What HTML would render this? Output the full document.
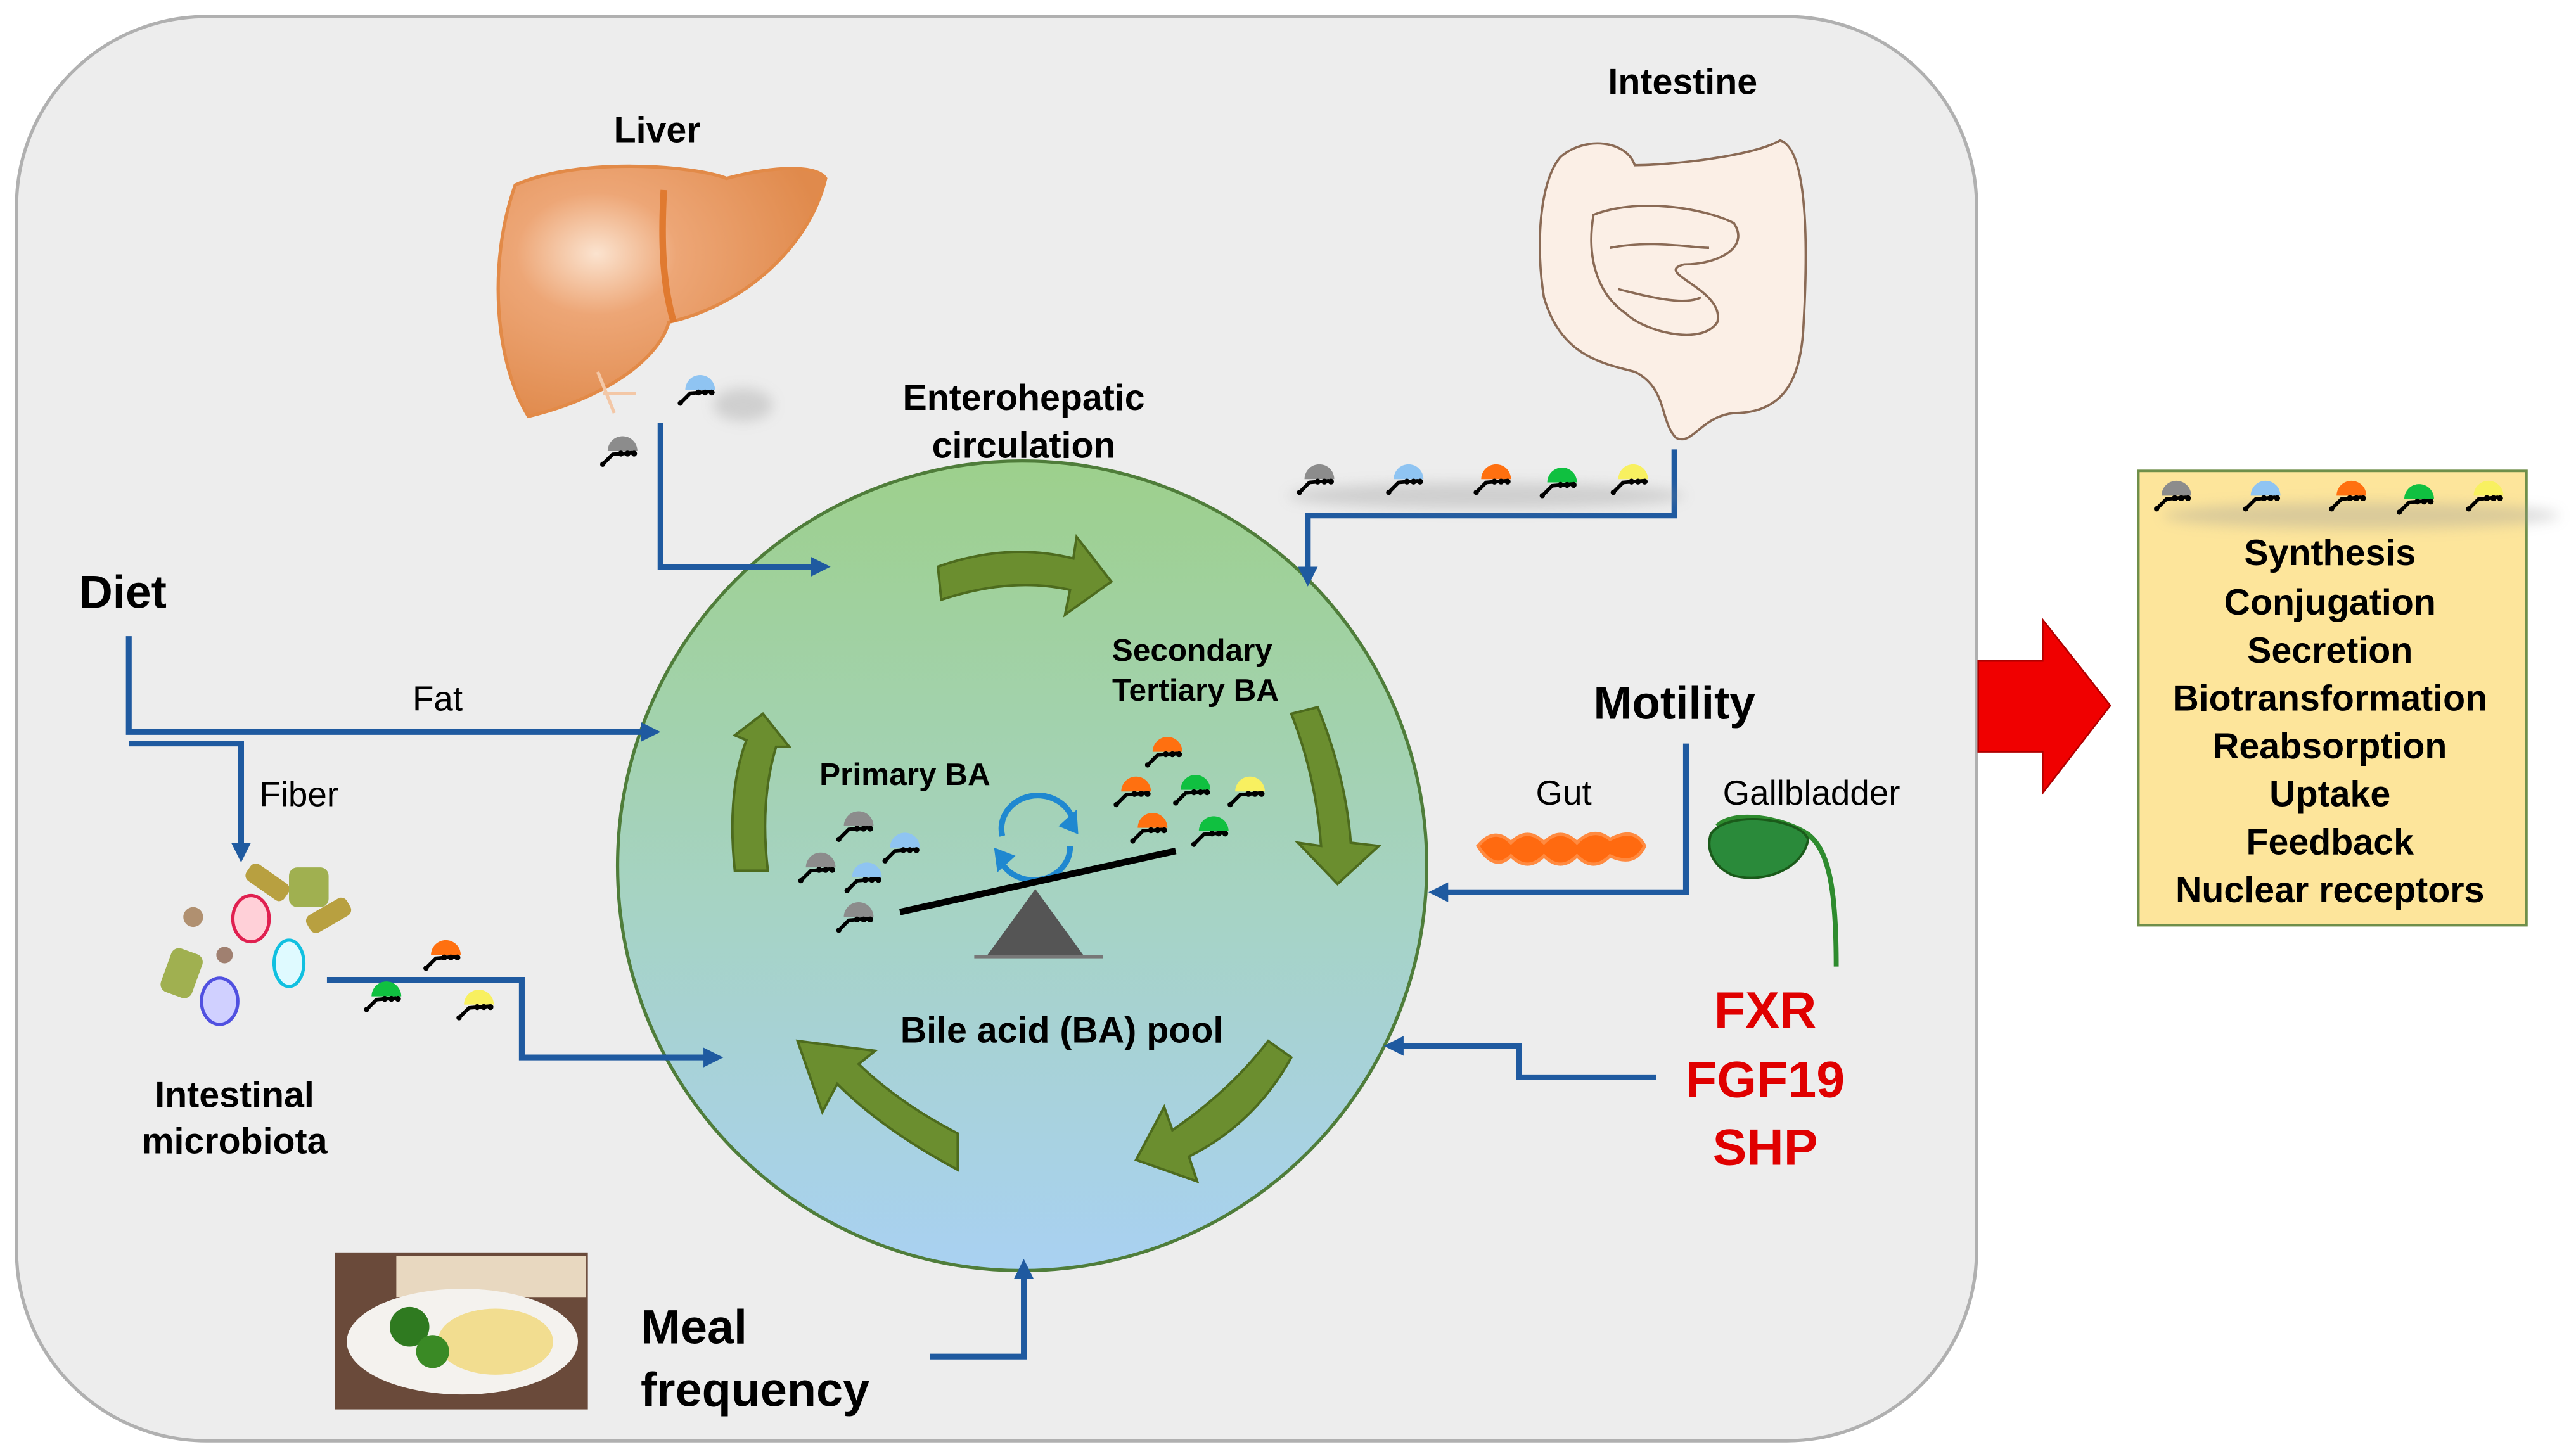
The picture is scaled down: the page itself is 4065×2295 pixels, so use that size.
<!DOCTYPE html>
<html><head><meta charset="utf-8"><style>
html,body{margin:0;padding:0;background:#fff}
svg{display:block}
text{font-family:"Liberation Sans",Arial,sans-serif}
</style></head><body>
<svg width="4065" height="2295" viewBox="0 0 1560 880" preserveAspectRatio="none" xmlns="http://www.w3.org/2000/svg">
<defs>
<linearGradient id="pool" x1="0" y1="0" x2="0" y2="1">
<stop offset="0" stop-color="#9dd08c"/><stop offset="0.55" stop-color="#a6d3c4"/><stop offset="1" stop-color="#a9d1f2"/></linearGradient>
<radialGradient id="liv" cx="0.3" cy="0.35" r="0.7"><stop offset="0" stop-color="#fbe3cf"/><stop offset="0.35" stop-color="#eda676"/><stop offset="1" stop-color="#e08a4c"/></radialGradient>
<filter id="bl"><feGaussianBlur stdDeviation="4"/></filter>
<g id="tail"><path d="M-12,11 L-6,5 L6,4" stroke="#000" stroke-width="2.2" fill="none"/><circle cx="-1" cy="4.5" r="1.8"/><circle cx="3" cy="4.5" r="1.8"/><circle cx="7" cy="4.5" r="1.8"/><circle cx="-12" cy="11" r="1.6"/></g>
<path id="dome" d="M-9,3 A9,9 0 0 1 9,3 Z"/>
</defs>

<rect x="10" y="10" width="1187" height="862" rx="115" fill="#ededed" stroke="#b0b0b0" stroke-width="2"/>

<circle cx="619" cy="524" r="245" fill="url(#pool)" stroke="#4f7d3a" stroke-width="2"/>

<g stroke="#1f5aa0" stroke-width="3.5" fill="none">
<path d="M400,256 V343 H495"/>
<path d="M1014,272 V312 H792 V348"/>
<path d="M78,385 V443 H392"/>
<path d="M78,450 H146 V515"/>
<path d="M198,593 H316 V640 H430"/>
<path d="M1021,450 V540 H872"/>
<path d="M1003,652 H920 V633 H845"/>
<path d="M563,821 H620 V770"/>
</g>
<g fill="#1f5aa0">
<path d="M503,343 L491,337 L491,349Z"/>
<path d="M792,355 L786,343 L798,343Z"/>
<path d="M400,443 L388,437 L388,449Z"/>
<path d="M146,522 L140,510 L152,510Z"/>
<path d="M438,640 L426,634 L426,646Z"/>
<path d="M865,540 L877,534 L877,546Z"/>
<path d="M838,633 L850,627 L850,639Z"/>
<path d="M620,762 L614,774 L626,774Z"/>
</g>

<path d="M1198,400 H1237 V375 L1278,427 L1237,480 V455 H1198Z" fill="#f00000" stroke="#b00000" stroke-width="1"/>

<rect x="1295" y="285" width="235" height="275" fill="#fde59b" stroke="#6f8f4a" stroke-width="1.5"/>
<g font-weight="bold" font-size="22" text-anchor="middle" fill="#000">
<text x="1411" y="342">Synthesis</text>
<text x="1411" y="372">Conjugation</text>
<text x="1411" y="401">Secretion</text>
<text x="1411" y="430">Biotransformation</text>
<text x="1411" y="459">Reabsorption</text>
<text x="1411" y="488">Uptake</text>
<text x="1411" y="517">Feedback</text>
<text x="1411" y="546">Nuclear receptors</text>
</g>

<path d="M312,112 C350,95 420,100 440,108 C470,100 495,100 500,108 C490,150 450,185 405,195 C400,215 370,240 320,252 C300,220 295,160 312,112Z" fill="url(#liv)" stroke="#e28a48" stroke-width="2"/>
<path d="M402,115 C400,150 402,175 408,195" stroke="#e07a30" stroke-width="4" fill="none"/>
<path d="M362,225 L372,250 M365,238 L385,238" stroke="#f3c7a6" stroke-width="2" fill="none"/>

<g fill="#fbefe6" stroke="#8a6a55" stroke-width="1.4">
<path d="M945,95 C960,82 985,85 990,100 C1010,100 1060,95 1078,85 C1095,90 1095,150 1092,200 C1090,230 1080,250 1050,250 C1030,252 1025,270 1015,265 C1005,255 1010,235 990,225 C970,220 945,215 935,180 C930,150 932,110 945,95Z"/>
<path d="M965,130 C990,120 1030,125 1050,135 C1060,150 1040,160 1020,160 C1000,165 1045,175 1040,195 C1030,210 995,200 985,190 C970,180 960,160 965,130Z" fill="none"/>
<path d="M975,150 C1000,145 1025,150 1035,150 M980,175 C1000,180 1020,185 1030,180" fill="none"/>
</g>

<path d="M1040,500 C1050,490 1080,495 1095,505 C1108,515 1112,540 1112,585" stroke="#2e8b2e" stroke-width="3" fill="none"/>
<path d="M1036,505 C1045,490 1090,495 1095,508 C1092,525 1070,535 1050,530 C1038,525 1033,515 1036,505Z" fill="#2a8a3a" stroke="#1a5a1a" stroke-width="1.5"/>
<path d="M895,512 Q905,500 915,510 Q925,500 935,510 Q945,500 955,510 Q965,500 975,508 Q990,500 996,512 Q990,525 975,518 Q965,528 955,518 Q945,528 935,518 Q925,528 915,518 Q905,528 895,512Z" fill="#ff6a10" stroke="#ff8a40" stroke-width="2"/>

<g>
<rect x="148" y="528" width="28" height="12" rx="4" fill="#b8a040" transform="rotate(35 162 534)"/>
<rect x="185" y="548" width="28" height="12" rx="4" fill="#b8a040" transform="rotate(-30 199 554)"/>
<rect x="100" y="575" width="20" height="28" rx="5" fill="#a0b050" transform="rotate(20 110 589)"/>
<rect x="175" y="525" width="24" height="24" rx="5" fill="#a0b050"/>
<circle cx="117" cy="555" r="6" fill="#b09070"/><circle cx="136" cy="578" r="5" fill="#a08070"/>
<ellipse cx="152" cy="556" rx="11" ry="14" fill="#ffd0d8" stroke="#e02050" stroke-width="2"/>
<ellipse cx="175" cy="583" rx="9" ry="14" fill="#dffaff" stroke="#10c0e0" stroke-width="2"/>
<ellipse cx="133" cy="606" rx="11" ry="14" fill="#d0d0ff" stroke="#5050e0" stroke-width="2"/>
</g>

<rect x="203" y="758" width="153" height="95" fill="#6a4a3a"/>
<rect x="240" y="760" width="115" height="25" fill="#e8d8c0"/>
<ellipse cx="280" cy="812" rx="70" ry="32" fill="#f4f2ee"/>
<ellipse cx="300" cy="812" rx="35" ry="20" fill="#f2dd90"/>
<circle cx="248" cy="803" r="12" fill="#2f7a20"/><circle cx="262" cy="818" r="10" fill="#3a8a25"/>

<g fill="#6b8e2f" stroke="#4d6b1e" stroke-width="1.5">
<path d="M568,343 Q610,328 650,338 L652,325 L673,352 L645,372 L648,357 Q612,349 570,363Z"/>
<path d="M782,432 L798,428 Q815,470 818,510 L835,512 L810,535 L786,510 L800,512 Q797,470 782,432Z"/>
<path d="M782,640 Q760,680 720,700 L725,715 L688,702 L705,670 L710,684 Q745,660 768,630Z"/>
<path d="M445,527 Q440,480 452,448 L445,445 L462,432 L478,452 L470,452 Q460,485 465,527Z"/>
<path d="M580,686 Q545,668 520,644 L530,636 L483,630 L498,673 L507,656 Q535,684 580,708Z"/>
</g>

<g stroke="#1f88d0" stroke-width="3.5" fill="none">
<path d="M607,506 A22,20 0 0 1 650,497"/><path d="M648,512 A22,20 0 0 1 606,521"/>
</g>
<path d="M652,490 L653,505 L641,500Z M604,528 L602,513 L615,518Z" fill="#1f88d0"/>

<line x1="545" y1="552" x2="712" y2="515" stroke="#000" stroke-width="4"/>
<path d="M598,578 L656,578 L627,538Z" fill="#555"/>
<line x1="590" y1="579" x2="668" y2="579" stroke="#777" stroke-width="2"/>

<g fill="#999" opacity="0.35" filter="url(#bl)">
<ellipse cx="450" cy="245" rx="18" ry="10"/>
<ellipse cx="900" cy="300" rx="120" ry="8"/>
<ellipse cx="1430" cy="312" rx="120" ry="8"/>
</g>

<g>
<g transform="translate(377,270)"><use href="#dome" fill="#8c8c8c"/><use href="#tail"/></g>
<g transform="translate(424,233)"><use href="#dome" fill="#8fc4f2"/><use href="#tail"/></g>
<g transform="translate(799,287)"><use href="#dome" fill="#8c8c8c"/><use href="#tail"/></g>
<g transform="translate(853,287)"><use href="#dome" fill="#8fc4f2"/><use href="#tail"/></g>
<g transform="translate(906,287)"><use href="#dome" fill="#ff7010"/><use href="#tail"/></g>
<g transform="translate(946,289)"><use href="#dome" fill="#10c040"/><use href="#tail"/></g>
<g transform="translate(989,287)"><use href="#dome" fill="#f8f060"/><use href="#tail"/></g>
<g transform="translate(1318,297)"><use href="#dome" fill="#8c8c8c"/><use href="#tail"/></g>
<g transform="translate(1372,297)"><use href="#dome" fill="#8fc4f2"/><use href="#tail"/></g>
<g transform="translate(1424,297)"><use href="#dome" fill="#ff7010"/><use href="#tail"/></g>
<g transform="translate(1465,299)"><use href="#dome" fill="#10c040"/><use href="#tail"/></g>
<g transform="translate(1507,297)"><use href="#dome" fill="#f8f060"/><use href="#tail"/></g>
<g transform="translate(520,497)"><use href="#dome" fill="#8c8c8c"/><use href="#tail"/></g>
<g transform="translate(548,510)"><use href="#dome" fill="#8fc4f2"/><use href="#tail"/></g>
<g transform="translate(497,522)"><use href="#dome" fill="#8c8c8c"/><use href="#tail"/></g>
<g transform="translate(525,528)"><use href="#dome" fill="#8fc4f2"/><use href="#tail"/></g>
<g transform="translate(520,552)"><use href="#dome" fill="#8c8c8c"/><use href="#tail"/></g>
<g transform="translate(707,452)"><use href="#dome" fill="#ff7010"/><use href="#tail"/></g>
<g transform="translate(688,476)"><use href="#dome" fill="#ff7010"/><use href="#tail"/></g>
<g transform="translate(724,475)"><use href="#dome" fill="#10c040"/><use href="#tail"/></g>
<g transform="translate(757,476)"><use href="#dome" fill="#f8f060"/><use href="#tail"/></g>
<g transform="translate(698,498)"><use href="#dome" fill="#ff7010"/><use href="#tail"/></g>
<g transform="translate(735,500)"><use href="#dome" fill="#10c040"/><use href="#tail"/></g>
<g transform="translate(270,575)"><use href="#dome" fill="#ff7010"/><use href="#tail"/></g>
<g transform="translate(234,600)"><use href="#dome" fill="#10c040"/><use href="#tail"/></g>
<g transform="translate(290,605)"><use href="#dome" fill="#f8f060"/><use href="#tail"/></g>
</g>

<g fill="#000" font-weight="bold">
<text x="398" y="86" font-size="22" text-anchor="middle">Liver</text>
<text x="1019" y="57" font-size="22" text-anchor="middle">Intestine</text>
<text x="620" y="248" font-size="22" text-anchor="middle">Enterohepatic</text>
<text x="620" y="277" font-size="22" text-anchor="middle">circulation</text>
<text x="48" y="368" font-size="28">Diet</text>
<text x="965" y="435" font-size="28">Motility</text>
<text x="722" y="400" font-size="19" text-anchor="middle">Secondary</text>
<text x="724" y="424" font-size="19" text-anchor="middle">Tertiary BA</text>
<text x="548" y="475" font-size="19" text-anchor="middle">Primary BA</text>
<text x="643" y="631" font-size="22" text-anchor="middle">Bile acid (BA) pool</text>
<text x="142" y="670" font-size="22" text-anchor="middle">Intestinal</text>
<text x="142" y="698" font-size="22" text-anchor="middle">microbiota</text>
<text x="388" y="813" font-size="29">Meal</text>
<text x="388" y="851" font-size="29">frequency</text>
</g>
<g fill="#000" font-size="21">
<text x="265" y="430" text-anchor="middle">Fat</text>
<text x="181" y="488" text-anchor="middle">Fiber</text>
<text x="947" y="487" text-anchor="middle">Gut</text>
<text x="1097" y="487" text-anchor="middle">Gallbladder</text>
</g>
<g fill="#e00000" font-weight="bold" font-size="31" text-anchor="middle">
<text x="1069" y="622">FXR</text>
<text x="1069" y="664">FGF19</text>
<text x="1069" y="705">SHP</text>
</g>
</svg>
</body></html>
